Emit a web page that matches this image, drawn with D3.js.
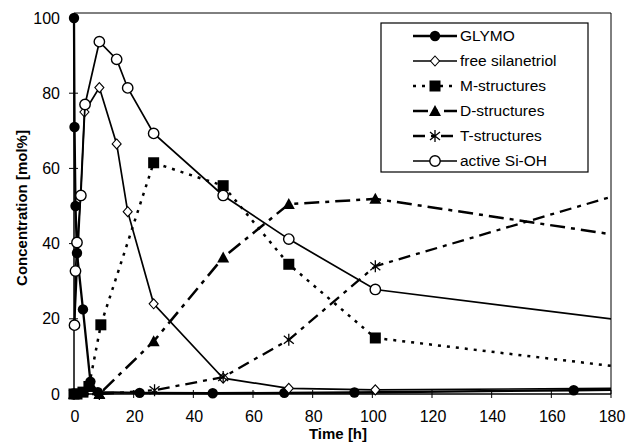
<!DOCTYPE html>
<html>
<head>
<meta charset="utf-8">
<script src="https://cdn.jsdelivr.net/npm/d3@7"></script>
<style>
  body { margin: 0; background: #fff; }
  svg { font-family: "Liberation Sans", Arial, sans-serif; }
  .tick-label { font-size: 16px; fill: #000; }
  .axis-title { font-weight: bold; fill: #000; }
  .legend-label { font-size: 15.5px; fill: #000; }
</style>
</head>
<body>
<div id="chart"></div>
<script>
// time axis [h] and concentrations [mol%]
let glymoTime = [0, 0.17, 0.5, 1, 3, 5.5, 8, 22, 46.5, 70.5, 94, 167.5, 200];
let glymoConc = [100, 71, 50, 37.5, 22.5, 3.3, 0.5, 0.3, 0.2, 0.3, 0.4, 1.0, 1.2];

let silanetriolTime = [0.17, 3.5, 8.5, 14.3, 18, 26.7, 50, 72, 101, 200];
let silanetriolConc = [18.5, 75, 81.5, 66.5, 48.5, 24, 4.2, 1.5, 1.1, 1.6];

let mTime = [0, 1, 3, 5, 9, 26.7, 50, 72, 101, 200];
let mConc = [0, 0, 0.5, 2, 18.4, 61.5, 55.4, 34.5, 14.9, 5.6];

let dTime = [0, 8.5, 26.7, 50, 72, 101, 200];
let dConc = [0, 0, 14, 36.3, 50.5, 51.9, 40.1];

let tTime = [0, 8.5, 27, 50, 72, 101, 200];
let tConc = [0, 0, 1, 4.5, 14.4, 34, 57.1];

let activeTime = [0.17, 0.5, 1, 2.3, 3.7, 8.5, 14.3, 18, 26.7, 50, 72, 101, 200];
let activeConc = [18.3, 32.7, 40.3, 52.8, 77, 93.7, 89, 81.4, 69.3, 52.8, 41.2, 27.8, 18.0];

let xTicks = [0, 20, 40, 60, 80, 100, 120, 140, 160, 180];
let yTicks = [0, 20, 40, 60, 80, 100];

let seriesNames = ["GLYMO", "free silanetriol", "M-structures", "D-structures", "T-structures", "active Si-OH"];

let series = [
  { name: seriesNames[0], t: glymoTime, c: glymoConc, marker: "dot", dash: null, width: 2.3 },
  { name: seriesNames[1], t: silanetriolTime, c: silanetriolConc, marker: "diamond", dash: null, width: 1.7 },
  { name: seriesNames[2], t: mTime, c: mConc, marker: "square", dash: "3,6", width: 2.5 },
  { name: seriesNames[3], t: dTime, c: dConc, marker: "triangle", dash: "15,6,4,6", width: 2.5 },
  { name: seriesNames[4], t: tTime, c: tConc, marker: "star", dash: "12,6,4,6", width: 2.3 },
  { name: seriesNames[5], t: activeTime, c: activeConc, marker: "circle", dash: null, width: 1.7 }
];

let width = 628, height = 445;
let plot = { left: 74, right: 611, top: 18, bottom: 394 };

let svg = d3.select("#chart").append("svg")
  .attr("width", width)
  .attr("height", height);

svg.append("rect").attr("width", width).attr("height", height).attr("fill", "#fff");

let x = d3.scaleLinear().domain([0, 180]).range([plot.left, plot.right]);
let y = d3.scaleLinear().domain([0, 100]).range([plot.bottom, plot.top]);

svg.append("clipPath").attr("id", "plot-clip")
  .append("rect")
  .attr("x", plot.left - 8).attr("y", plot.top - 8)
  .attr("width", plot.right - plot.left + 8)
  .attr("height", plot.bottom - plot.top + 16);

// frame (top + right thin, axes drawn below)
svg.append("path")
  .attr("d", "M" + plot.left + "," + (plot.top - 5) + "H" + plot.right + "V" + plot.bottom)
  .attr("fill", "none").attr("stroke", "#000").attr("stroke-width", 1);

//////////
// axes //
//////////

let xAxis = svg.append("g").attr("transform", "translate(0," + plot.bottom + ")");
xAxis.append("line").attr("x1", plot.left).attr("x2", plot.right)
  .attr("stroke", "#000").attr("stroke-width", 1.5);
xAxis.selectAll(".xt").data(xTicks).enter().append("line")
  .attr("x1", (d) => x(d)).attr("x2", (d) => x(d))
  .attr("y1", -4).attr("y2", 4)
  .attr("stroke", "#000").attr("stroke-width", 1);
xAxis.selectAll(".xl").data(xTicks).enter().append("text")
  .attr("class", "tick-label")
  .attr("x", (d) => x(d) + 1).attr("y", 28)
  .attr("text-anchor", "middle")
  .text((d) => d);

let yAxis = svg.append("g").attr("transform", "translate(" + plot.left + ",0)");
yAxis.append("line").attr("y1", plot.top - 5).attr("y2", plot.bottom)
  .attr("stroke", "#000").attr("stroke-width", 1.5);
yAxis.selectAll(".yt").data(yTicks).enter().append("line")
  .attr("y1", (d) => y(d)).attr("y2", (d) => y(d))
  .attr("x1", -5).attr("x2", 4)
  .attr("stroke", "#000").attr("stroke-width", 1);
yAxis.selectAll(".yl").data(yTicks).enter().append("text")
  .attr("class", "tick-label")
  .attr("x", -14).attr("y", (d) => y(d))
  .attr("dy", "0.35em")
  .attr("text-anchor", "end")
  .text((d) => d);

svg.append("text").attr("class", "axis-title")
  .attr("x", 338).attr("y", 439)
  .attr("text-anchor", "middle")
  .style("font-size", "15px")
  .text("Time [h]");

svg.append("text").attr("class", "axis-title")
  .attr("transform", "translate(27," + ((plot.top + plot.bottom) / 2 + 2) + ") rotate(-90)")
  .attr("text-anchor", "middle")
  .style("font-size", "15px")
  .text("Concentration [mol%]");

////////////
// series //
////////////

let line = d3.line()
  .x((d) => x(d[0]))
  .y((d) => y(d[1]));

let dataGroup = svg.append("g").attr("clip-path", "url(#plot-clip)");

series.forEach((s) => {
  let pts = s.t.map((t, i) => [t, s.c[i]]);
  dataGroup.append("path")
    .datum(pts)
    .attr("d", line)
    .attr("fill", "none")
    .attr("stroke", "#000")
    .attr("stroke-width", s.width)
    .attr("stroke-dasharray", s.dash);
  dataGroup.selectAll(null).data(pts).enter().append("g")
    .attr("transform", (d) => "translate(" + x(d[0]) + "," + y(d[1]) + ")")
    .each(function() { drawMarker(d3.select(this), s.marker); });
});

////////////
// legend //
////////////

let legend = svg.append("g").attr("transform", "translate(381,23)");
legend.append("rect")
  .attr("width", 207).attr("height", 149)
  .attr("fill", "#fff").attr("stroke", "#000").attr("stroke-width", 1.2);

series.forEach((s, i) => {
  let row = legend.append("g").attr("transform", "translate(0," + (13 + i * 25) + ")");
  row.append("line")
    .attr("x1", 32).attr("x2", 76)
    .attr("stroke", "#000")
    .attr("stroke-width", s.width)
    .attr("stroke-dasharray", s.dash);
  let m = row.append("g").attr("transform", "translate(54,0)");
  drawMarker(m, s.marker);
  row.append("text").attr("class", "legend-label")
    .attr("x", 79).attr("y", 0).attr("dy", "0.35em")
    .text(s.name);
});

function drawMarker(g, type) {
  if (type === "dot") {
    g.append("circle").attr("r", 5.2).attr("fill", "#000");
  } else if (type === "circle") {
    g.append("circle").attr("r", 5.2).attr("fill", "#fff")
      .attr("stroke", "#000").attr("stroke-width", 1.4);
  } else if (type === "diamond") {
    g.append("path").attr("d", "M0,-5L4.5,0L0,5L-4.5,0Z")
      .attr("fill", "#fff").attr("stroke", "#000").attr("stroke-width", 1.1);
  } else if (type === "square") {
    g.append("rect").attr("x", -5.5).attr("y", -5.5)
      .attr("width", 11).attr("height", 11).attr("fill", "#000");
  } else if (type === "triangle") {
    g.append("path").attr("d", "M0,-6L6,5L-6,5Z").attr("fill", "#000");
  } else if (type === "star") {
    g.append("path").attr("d", "M0,-6V6M-5,-4L5,4M-5,4L5,-4")
      .attr("stroke", "#000").attr("stroke-width", 1.3).attr("fill", "none");
  }
}
</script>
</body>
</html>
